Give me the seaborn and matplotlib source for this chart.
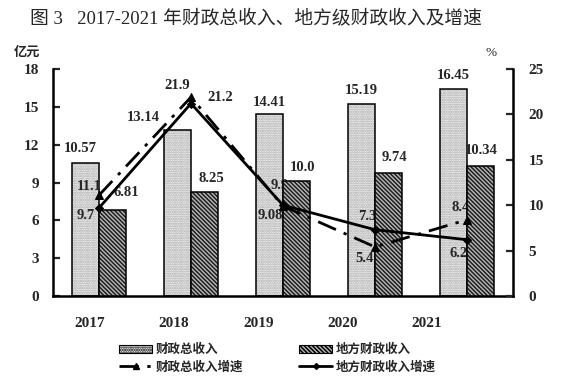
import numpy as np
import pandas as pd
import matplotlib
matplotlib.use('Agg')
import matplotlib.pyplot as plt
import seaborn as sns
from matplotlib.patches import Patch, Rectangle
from matplotlib.lines import Line2D

# ---- data ----
years = ['2017', '2018', '2019', '2020', '2021']
total_rev = [10.57, 13.14, 14.41, 15.19, 16.45]
local_rev = [6.81, 8.25, 9.08, 9.74, 10.34]
total_rev_labels = ['10.57', '13.14', '14.41', '15.19', '16.45']
local_rev_labels = ['6.81', '8.25', '10.0', '9.74', '10.34']
total_growth = [11.1, 21.9, 9.9, 5.4, 8.4]
local_growth = [9.7, 21.2, 10.0, 7.3, 6.2]
total_growth_labels = ['11.1', '21.9', '9.9', '5.4', '8.4']
local_growth_labels = ['9.7', '21.2', '9.08', '7.3', '6.2']
left_ticks = [0, 3, 6, 9, 12, 15, 18]
right_ticks = [0, 5, 10, 15, 20, 25]
series = ['财政总收入', '地方财政收入', '财政总收入增速', '地方财政收入增速']
title = '图 3   2017-2021 年财政总收入、地方级财政收入及增速'

# ---- style ----
sns.set_style('white')
plt.rcParams['font.family'] = ['Liberation Serif', 'Noto Sans CJK SC', 'DejaVu Sans']
plt.rcParams['hatch.linewidth'] = 1.1
CJK = ['Noto Sans CJK SC', 'DejaVu Sans']
px = 0.72  # pixels -> points at dpi 100
DOTS = '.......'
DIAG = '\\\\\\\\\\\\\\\\'

fig = plt.figure(figsize=(5.72, 3.79), dpi=100)
ax = fig.add_axes([53 / 572, 1 - 296 / 379, 460 / 572, 227 / 379])

df = pd.DataFrame({'year': years * 2,
                   'value': total_rev + local_rev,
                   'series': [series[0]] * 5 + [series[1]] * 5})
sns.barplot(data=df, x='year', y='value', hue='series', ax=ax, width=0.58, gap=0,
            palette=['#f2f2f2', '#b4b4b4'], saturation=1, errorbar=None, legend=False)

styles = [dict(face='#f0f0f0', hatch=DOTS, hcol='#a8a8a8', z=1),
          dict(face='#b8b8b8', hatch=DIAG, hcol='#1e1e1e', z=3)]
for cont, st in zip(ax.containers, styles):
    for p in cont.patches:
        p.set_facecolor(st['face'])
        p.set_hatch(st['hatch'])
        p.set_edgecolor(st['hcol'])
        p.set_linewidth(0)
        p.set_zorder(st['z'])
        ax.add_patch(Rectangle(p.get_xy(), p.get_width(), p.get_height(), fill=False,
                               edgecolor='black', linewidth=1.1, zorder=st['z'] + 0.1))

ax.set_xlim(-0.5, 4.5)
ax.set_ylim(0, 18)
ax.set_yticks(left_ticks)
ax.set_xlabel('')
ax.set_ylabel('')

# bar labels
tot_off = [(-5, 14), (-34, 13), (0, 12), (0, 14), (0, 13)]
loc_off = [(14, 18), (7, 13), (6, 14), (6, 16), (1, 15)]
for cont, labels, offs in zip(ax.containers, [total_rev_labels, local_rev_labels], [tot_off, loc_off]):
    for p, lab, (dx, dy) in zip(cont.patches, labels, offs):
        ax.annotate(lab, xy=(p.get_x() + p.get_width() / 2, p.get_height()),
                    xytext=(dx * px, dy * px), textcoords='offset points',
                    ha='center', va='center', fontsize=10.5, fontweight='bold', zorder=6)

# lines on twin axis
ax2 = ax.twinx()
xpos = np.arange(len(years))
sns.lineplot(x=xpos, y=total_growth, ax=ax2, color='black', linewidth=2,
             linestyle=(0, (7, 3, 1.2, 3)), marker='^', markersize=6,
             markeredgecolor='black', markerfacecolor='black')
sns.lineplot(x=xpos, y=local_growth, ax=ax2, color='black', linewidth=2,
             marker='D', markersize=4, markeredgecolor='black', markerfacecolor='black')
ax2.set_ylim(0, 25)
ax2.set_yticks(right_ticks)
ax2.set_xlim(-0.5, 4.5)
ax.set_xlim(-0.5, 4.5)

# growth labels (drawn under the local bars, like the reference)
tg_off = [(-10, 9), (-14, 12), (-3, 21), (-10, -12), (-6, 12)]
lg_off = [(-13, -8), (29, 6), (-13, -10), (-8, 13), (-8, -14)]
for vals, labels, offs in [(total_growth, total_growth_labels, tg_off),
                           (local_growth, local_growth_labels, lg_off)]:
    for i, (v, lab, (dx, dy)) in enumerate(zip(vals, labels, offs)):
        ax.annotate(lab, xy=(i, v), xycoords=ax2.transData,
                    xytext=(dx * px, dy * px), textcoords='offset points',
                    ha='center', va='center', fontsize=10.5, fontweight='bold', zorder=2)

# x tick labels (slightly offset leftwards as in the reference)
label_pos = xpos * 0.915 - 0.1
ax.set_xticks(label_pos)
ax.set_xticklabels(years, fontsize=11, fontweight='bold')
ax.set_xticks([1.5, 3.5], minor=True)
ax.tick_params(axis='x', which='major', length=0, pad=15)
ax.tick_params(axis='x', which='minor', direction='in', length=4, width=1.5)
ax.tick_params(axis='y', direction='in', length=5, width=1.6, pad=10, labelsize=11, left=True)
ax2.tick_params(axis='y', direction='in', length=5, width=1.6, pad=11, labelsize=11, right=True)
for lab in ax.get_yticklabels() + ax2.get_yticklabels():
    lab.set_fontweight('bold')

for s in ['top', 'right']:
    ax.spines[s].set_visible(False)
for s in ['top', 'left', 'bottom']:
    ax2.spines[s].set_visible(False)
for s in ['left', 'bottom']:
    ax.spines[s].set_linewidth(1.8)
    ax.spines[s].set_color('black')
ax2.spines['right'].set_linewidth(1.8)
ax2.spines['right'].set_color('black')

# texts
fig.text(256 / 572, 1 - 18 / 379, title, ha='center', va='center', fontsize=13.5,
         family=['Liberation Serif', 'Noto Sans CJK SC'])
fig.text(27 / 572, 1 - 52 / 379, '亿元', ha='center', va='center', fontsize=9.5,
         fontweight='bold', family=CJK)
fig.text(491 / 572, 1 - 53 / 379, '%', ha='center', va='center', fontsize=9.5)

# legend
handles = [Patch(facecolor=styles[0]['face'], edgecolor='black', hatch=DOTS, linewidth=0.8),
           Line2D([], [], color='black', lw=2, linestyle=(0, (7, 3, 1.2, 3)), marker='^', markersize=5),
           Patch(facecolor=styles[1]['face'], edgecolor='black', hatch=DIAG, linewidth=0.8),
           Line2D([], [], color='black', lw=2, marker='D', markersize=3)]
labels = [series[0], series[2], series[1], series[3]]
fig.legend(handles, labels, ncol=2, loc='upper left', bbox_to_anchor=(108 / 572, 1 - 332 / 379),
           frameon=False, prop={'family': CJK, 'size': 9, 'weight': 'bold'},
           handlelength=2.6, handleheight=0.7, labelspacing=0.35, columnspacing=4.5,
           handletextpad=0.3)

fig.savefig('out.png', dpi=100, facecolor='white')
